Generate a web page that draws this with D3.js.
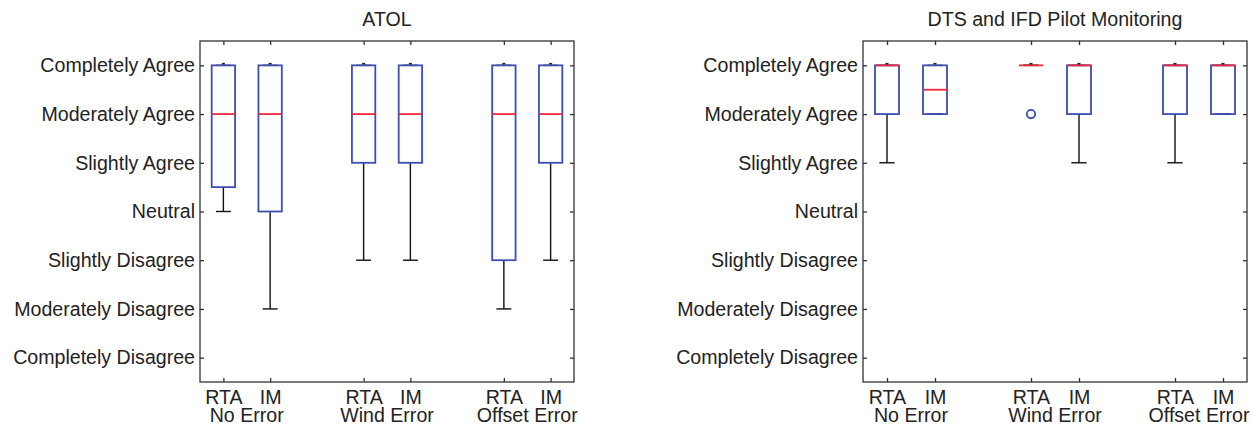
<!DOCTYPE html>
<html>
<head>
<meta charset="utf-8">
<script src="https://cdn.jsdelivr.net/npm/d3@7"></script>
<style>
  html, body { margin: 0; padding: 0; background: #fff; }
  svg text { font-family: "Liberation Sans", Arial, sans-serif; fill: #222; }
</style>
</head>
<body>
<svg id="chart" width="1260" height="425"></svg>
<script>
// Likert scale, 1 = Completely Disagree ... 7 = Completely Agree
const likertLabels = [
  "Completely Disagree", "Moderately Disagree", "Slightly Disagree",
  "Neutral", "Slightly Agree", "Moderately Agree", "Completely Agree"
];
const likertValues = [1, 2, 3, 4, 5, 6, 7];

// Box positions and their labels
const positions = [1, 2, 4, 5, 7, 8];
const systemLabels = ["RTA", "IM", "RTA", "IM", "RTA", "IM"];
const conditionLabels = ["No Error", "Wind Error", "Offset Error"];

// ATOL ratings: five-number summaries per box
const atolLow  = [4, 2, 3, 3, 2, 3];
const atolQ1   = [4.5, 4, 5, 5, 3, 5];
const atolMed  = [6, 6, 6, 6, 6, 6];
const atolQ3   = [7, 7, 7, 7, 7, 7];
const atolHigh = [7, 7, 7, 7, 7, 7];
const atolOutliers = [[], [], [], [], [], []];

// DTS and IFD pilot monitoring ratings
const dtsLow  = [5, 6, 7, 5, 5, 6];
const dtsQ1   = [6, 6, 7, 6, 6, 6];
const dtsMed  = [7, 6.5, 7, 7, 7, 7];
const dtsQ3   = [7, 7, 7, 7, 7, 7];
const dtsHigh = [7, 7, 7, 7, 7, 7];
const dtsOutliers = [[], [], [6], [], [], []];

const svg = d3.select("#chart");
const FONT = 19.6;
const BOX_COLOR = "#3d4db3";
const MED_COLOR = "#f0283c";
const AXIS_COLOR = "#333";

function drawPanel(cfg) {
  const { left, right, top, bottom, title, low, q1, med, q3, high, outliers } = cfg;
  const x = d3.scaleLinear().domain([0.5, 8.5]).range([left, right]);
  const y = d3.scaleLinear().domain([0.5, 7.5]).range([bottom, top]);
  const g = svg.append("g");

  // title
  g.append("text")
    .attr("x", (left + right) / 2).attr("y", 25.5)
    .attr("text-anchor", "middle").attr("font-size", FONT)
    .text(title);

  // left axis with labels, ticks pointing inward
  const yAxis = g.append("g").attr("transform", `translate(${left},0)`)
    .call(d3.axisLeft(y).tickValues(likertValues).tickSize(-4).tickPadding(5)
      .tickFormat(v => likertLabels[v - 1]));
  // right axis ticks
  const yAxisR = g.append("g").attr("transform", `translate(${right},0)`)
    .call(d3.axisRight(y).tickValues(likertValues).tickSize(-4).tickFormat(""));
  // top axis ticks
  const xAxisT = g.append("g").attr("transform", `translate(0,${top})`)
    .call(d3.axisTop(x).tickValues(positions).tickSize(-4).tickFormat(""));
  // bottom axis with system labels
  const xAxisB = g.append("g").attr("transform", `translate(0,${bottom})`)
    .call(d3.axisBottom(x).tickValues(positions).tickSize(-4).tickPadding(8)
      .tickFormat((v, i) => systemLabels[i]));

  [yAxis, yAxisR, xAxisT, xAxisB].forEach(a => {
    a.select(".domain").remove();
    a.selectAll("line").attr("stroke", AXIS_COLOR).attr("stroke-width", 1.3);
    a.selectAll("text").attr("font-size", FONT).attr("fill", "#222")
      .attr("font-family", "'Liberation Sans', Arial, sans-serif");
  });

  // condition labels, centred under each pair of boxes
  conditionLabels.forEach((lab, k) => {
    const cx = (x(positions[2 * k]) + x(positions[2 * k + 1])) / 2;
    g.append("text")
      .attr("x", cx).attr("y", bottom + 39.5)
      .attr("text-anchor", "middle").attr("font-size", FONT)
      .text(lab);
  });

  // frame
  g.append("rect")
    .attr("x", left).attr("y", top)
    .attr("width", right - left).attr("height", bottom - top)
    .attr("fill", "none").attr("stroke", AXIS_COLOR).attr("stroke-width", 1.3);

  const boxHalf = 0.25;   // box width 0.5 units
  const capHalf = 0.16;

  positions.forEach((p, i) => {
    const b = g.append("g");
    // whiskers
    b.append("line")
      .attr("x1", x(p)).attr("x2", x(p))
      .attr("y1", y(q1[i])).attr("y2", y(low[i]))
      .attr("stroke", "#111").attr("stroke-width", 1.4);
    b.append("line")
      .attr("x1", x(p)).attr("x2", x(p))
      .attr("y1", y(q3[i])).attr("y2", y(high[i]))
      .attr("stroke", "#111").attr("stroke-width", 1.4);
    // whisker caps
    b.append("line")
      .attr("x1", x(p - capHalf)).attr("x2", x(p + capHalf))
      .attr("y1", y(low[i])).attr("y2", y(low[i]))
      .attr("stroke", "#111").attr("stroke-width", 1.4);
    b.append("line")
      .attr("x1", x(p - capHalf)).attr("x2", x(p + capHalf))
      .attr("y1", y(high[i])).attr("y2", y(high[i]))
      .attr("stroke", "#111").attr("stroke-width", 1.4);
    // box
    b.append("rect")
      .attr("x", x(p - boxHalf)).attr("y", y(q3[i]))
      .attr("width", x(p + boxHalf) - x(p - boxHalf))
      .attr("height", y(q1[i]) - y(q3[i]))
      .attr("fill", "none").attr("stroke", BOX_COLOR).attr("stroke-width", 1.8);
    // median
    b.append("line")
      .attr("x1", x(p - boxHalf)).attr("x2", x(p + boxHalf))
      .attr("y1", y(med[i])).attr("y2", y(med[i]))
      .attr("stroke", MED_COLOR).attr("stroke-width", 1.8);
    // small whisker end marks at the upper adjacent value
    b.append("rect")
      .attr("x", x(p) - 1.5).attr("y", y(high[i]) - 2.5)
      .attr("width", 3).attr("height", 1.6)
      .attr("fill", "#222");
    // outliers
    outliers[i].forEach(v => {
      b.append("circle")
        .attr("cx", x(p)).attr("cy", y(v)).attr("r", 4.2)
        .attr("fill", "none").attr("stroke", BOX_COLOR).attr("stroke-width", 1.8);
    });
  });
}

drawPanel({
  left: 200, right: 574, top: 41, bottom: 382, title: "ATOL",
  low: atolLow, q1: atolQ1, med: atolMed, q3: atolQ3, high: atolHigh, outliers: atolOutliers
});
drawPanel({
  left: 863, right: 1247, top: 41, bottom: 382, title: "DTS and IFD Pilot Monitoring",
  low: dtsLow, q1: dtsQ1, med: dtsMed, q3: dtsQ3, high: dtsHigh, outliers: dtsOutliers
});
</script>
</body>
</html>
